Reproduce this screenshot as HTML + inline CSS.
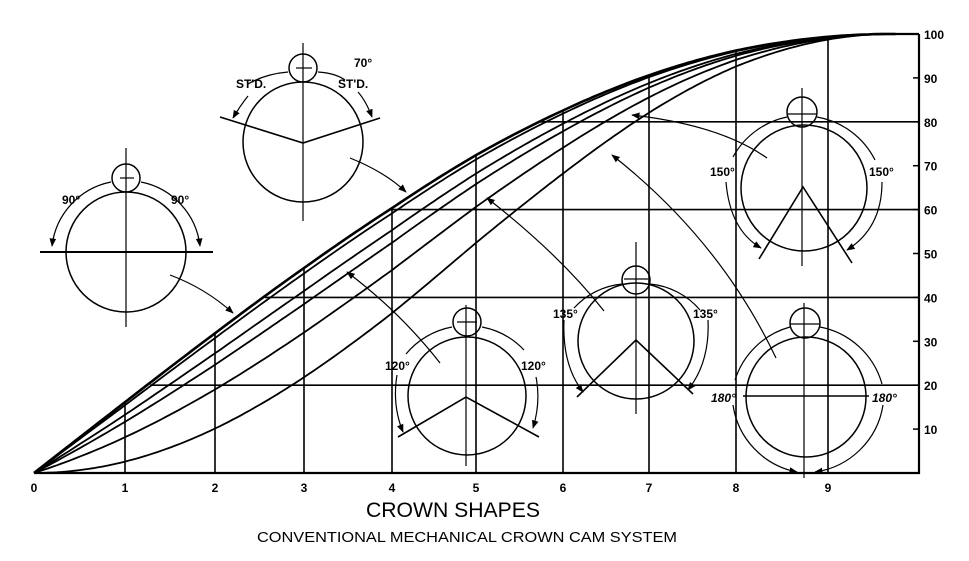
<!DOCTYPE html>
<html><head><meta charset="utf-8"><style>
html,body{margin:0;padding:0;background:#fff;width:969px;height:561px;overflow:hidden}
svg{display:block}
text{font-family:"Liberation Sans",sans-serif;fill:#000}
.t{font-weight:bold;font-size:12px}
.l{font-weight:bold;font-size:12px}
</style></head><body>
<svg id="s" width="969" height="561" viewBox="0 0 969 561" xmlns="http://www.w3.org/2000/svg">
<defs>
<marker id="a" viewBox="0 0 10 10" refX="9" refY="5" markerWidth="7" markerHeight="7" orient="auto-start-reverse"><path d="M0,1 L10,5 L0,9 z" fill="#000"/></marker>
</defs>
<g id="grid" stroke="#000" stroke-width="1.6" fill="none"></g>
<g id="curves" stroke="#000" fill="none"></g>
<g stroke="#000" stroke-width="1.6" fill="none">
<line x1="34" y1="473" x2="920" y2="473" stroke-width="2.2"/>
<line x1="919" y1="34" x2="919" y2="474" stroke-width="2.2"/>
<line x1="880" y1="34" x2="919" y2="34" stroke-width="2.2"/>
</g>
<g id="ticks" stroke="#000" stroke-width="1.5"></g>
<g id="labels"></g>

<g stroke="#000" fill="none" stroke-width="1.5">
<circle cx="126" cy="252" r="60"/>
<circle cx="126" cy="178" r="14"/>
<line x1="126" y1="148" x2="126" y2="327" stroke-width="1.2"/>
<line x1="40" y1="252" x2="213" y2="252" stroke-width="2"/>
<line x1="120" y1="178" x2="134" y2="178" stroke-width="1.2"/>
<path d="M111,182 A74,74 0 0 0 52,246" stroke-width="1.2" marker-end="url(#a)"/>
<path d="M141,182 A74,74 0 0 1 200,246" stroke-width="1.2" marker-end="url(#a)"/>
<path d="M170,275 Q205,288 233,313" stroke-width="1.2" marker-end="url(#a)"/>
</g>
<text x="62" y="204" class="l">90°</text>
<text x="171" y="204" class="l">90°</text>

<g stroke="#000" fill="none" stroke-width="1.5">
<circle cx="303" cy="142" r="60"/>
<circle cx="303" cy="68" r="14"/>
<line x1="303" y1="43" x2="303" y2="221" stroke-width="1.2"/>
<polyline points="220,117 303,143 380,118" stroke-width="1.6"/>
<line x1="296" y1="68" x2="312" y2="68" stroke-width="1.2"/>
<path d="M288,72 Q265,74 248,84" stroke-width="1.2"/>
<path d="M318,72 Q335,73 345,80" stroke-width="1.2"/>
<path d="M248,96 Q240,106 233,118" stroke-width="1.2" marker-end="url(#a)"/>
<path d="M358,92 Q366,101 372,117" stroke-width="1.2" marker-end="url(#a)"/>
<path d="M350,158 Q385,172 406,192" stroke-width="1.2" marker-end="url(#a)"/>
</g>
<text x="236" y="88" class="l">ST'D.</text>
<text x="338" y="88" class="l">ST'D.</text>
<text x="354" y="67" class="l">70°</text>

<g stroke="#000" fill="none" stroke-width="1.5">
<circle cx="467" cy="396" r="59"/>
<circle cx="467" cy="322" r="14"/>
<line x1="466" y1="305" x2="466" y2="466" stroke-width="1.2"/>
<polyline points="398,437 466,397 539,437" stroke-width="1.6"/>
<line x1="457" y1="322" x2="477" y2="322" stroke-width="1.2"/>
<path d="M452,327 A78,78 0 0 0 406,354" stroke-width="1.2"/>
<path d="M482,327 A78,78 0 0 1 524,350" stroke-width="1.2"/>
<path d="M397,375 Q392,405 403,432" stroke-width="1.2" marker-end="url(#a)"/>
<path d="M536,377 Q541,402 533,428" stroke-width="1.2" marker-end="url(#a)"/>
<path d="M440,363 Q400,312 347,272" stroke-width="1.2" marker-end="url(#a)"/>
</g>
<text x="385" y="370" class="l">120°</text>
<text x="521" y="370" class="l">120°</text>

<g stroke="#000" fill="none" stroke-width="1.5">
<circle cx="636" cy="341" r="58"/>
<circle cx="636" cy="280" r="14"/>
<line x1="636" y1="242" x2="636" y2="414" stroke-width="1.2"/>
<polyline points="577,397 636,340 693,394" stroke-width="1.6"/>
<line x1="624" y1="279" x2="648" y2="279" stroke-width="1.2"/>
<path d="M622,284 A75,75 0 0 0 574,308" stroke-width="1.2"/>
<path d="M650,284 A75,75 0 0 1 700,310" stroke-width="1.2"/>
<path d="M564,320 Q562,365 583,392" stroke-width="1.2" marker-end="url(#a)"/>
<path d="M708,320 Q710,362 688,390" stroke-width="1.2" marker-end="url(#a)"/>
<path d="M604,311 Q560,255 487,198" stroke-width="1.2" marker-end="url(#a)"/>
</g>
<text x="553" y="318" class="l">135°</text>
<text x="693" y="318" class="l">135°</text>

<g stroke="#000" fill="none" stroke-width="1.5">
<circle cx="804" cy="188" r="63"/>
<circle cx="802" cy="112" r="15"/>
<line x1="802" y1="88" x2="802" y2="266" stroke-width="1.2"/>
<polyline points="759,259 803,187 852,263" stroke-width="1.6"/>
<line x1="788" y1="114" x2="816" y2="114" stroke-width="1.2"/>
<path d="M787,117 A80,80 0 0 0 733,157" stroke-width="1.2"/>
<path d="M817,117 A80,80 0 0 1 875,160" stroke-width="1.2"/>
<path d="M726,182 Q730,230 761,248" stroke-width="1.2" marker-end="url(#a)"/>
<path d="M882,182 Q882,228 847,250" stroke-width="1.2" marker-end="url(#a)"/>
<path d="M767,158 Q720,125 632,115" stroke-width="1.2" marker-end="url(#a)"/>
</g>
<text x="710" y="176" class="l">150°</text>
<text x="869" y="176" class="l">150°</text>

<g stroke="#000" fill="none" stroke-width="1.5">
<circle cx="806" cy="397" r="60"/>
<circle cx="805" cy="323" r="15"/>
<line x1="804" y1="303" x2="804" y2="478" stroke-width="1.2"/>
<line x1="743" y1="396" x2="869" y2="396" stroke-width="1.6"/>
<line x1="790" y1="324" x2="820" y2="324" stroke-width="1.2"/>
<path d="M790,327 A80,80 0 0 0 735,380" stroke-width="1.2"/>
<path d="M820,327 A80,80 0 0 1 882,384" stroke-width="1.2"/>
<path d="M733,405 A80,80 0 0 0 797,472" stroke-width="1.2" marker-end="url(#a)"/>
<path d="M883,405 A80,80 0 0 1 815,472" stroke-width="1.2" marker-end="url(#a)"/>
<path d="M776,358 Q720,240 612,155" stroke-width="1.2" marker-end="url(#a)"/>
</g>
<text x="711" y="402" class="l" font-style="italic">180°</text>
<text x="872" y="402" class="l" font-style="italic">180°</text>

<text x="366" y="517" font-size="21" textLength="174" lengthAdjust="spacingAndGlyphs" style="font-family:'Liberation Sans',sans-serif">CROWN SHAPES</text>
<text x="257" y="542" font-size="14.5" textLength="420" lengthAdjust="spacingAndGlyphs" style="font-family:'Liberation Sans',sans-serif">CONVENTIONAL MECHANICAL CROWN CAM SYSTEM</text>
</svg>
<script>
(function(){
var NS="http://www.w3.org/2000/svg";
var XS=[34,125,215,304,392,476,563,649,736,828,918];
function X(x){var i=Math.min(9,Math.floor(x));var f=x-i;return XS[i]+(XS[i+1]-XS[i])*f;}
function Y(y){return 473-4.39*y;}
function top(x){return x>=9.7?100:100*Math.sin(Math.PI/2*x/9.7);}
function bot(x){return x>=9.7?100:50*(1-Math.cos(Math.PI*x/9.7));}
function el(n,a,p){var e=document.createElementNS(NS,n);for(var k in a)e.setAttribute(k,a[k]);p.appendChild(e);return e;}
var cg=document.getElementById('curves');
var ws=[0,0.05,0.21,0.33,0.59,1];
ws.forEach(function(w,i){
  var d="";
  for(var x=0;x<=9.75;x+=0.05){var y=(1-w)*top(x)+w*bot(x);d+=(x==0?"M":"L")+X(x).toFixed(1)+","+Y(y).toFixed(1);}
  d+="L"+X(9.75).toFixed(1)+","+Y(100);
  el('path',{d:d,'stroke-width':i==0?2.6:1.8},cg);
});
var g=document.getElementById('grid');
for(var i=1;i<=9;i++){var yt=top(i);el('line',{x1:X(i),y1:473,x2:X(i),y2:Y(yt)},g);}
var hs=[[20,150],[40,265],[60,390],[80,540]];
hs.forEach(function(h){el('line',{x1:h[1],y1:Y(h[0]),x2:919,y2:Y(h[0])},g);});
var lb=document.getElementById('labels');var tk=document.getElementById('ticks');
for(var i=0;i<=9;i++){var t=el('text',{x:X(i),y:492,'text-anchor':'middle','class':'t'},lb);t.textContent=i;}
for(var v=10;v<=100;v+=10){var t=el('text',{x:924,y:Y(v)+5,'class':'t'},lb);t.textContent=v;el('line',{x1:913,y1:Y(v),x2:919,y2:Y(v)},tk);}
})();
</script>
</body></html>
